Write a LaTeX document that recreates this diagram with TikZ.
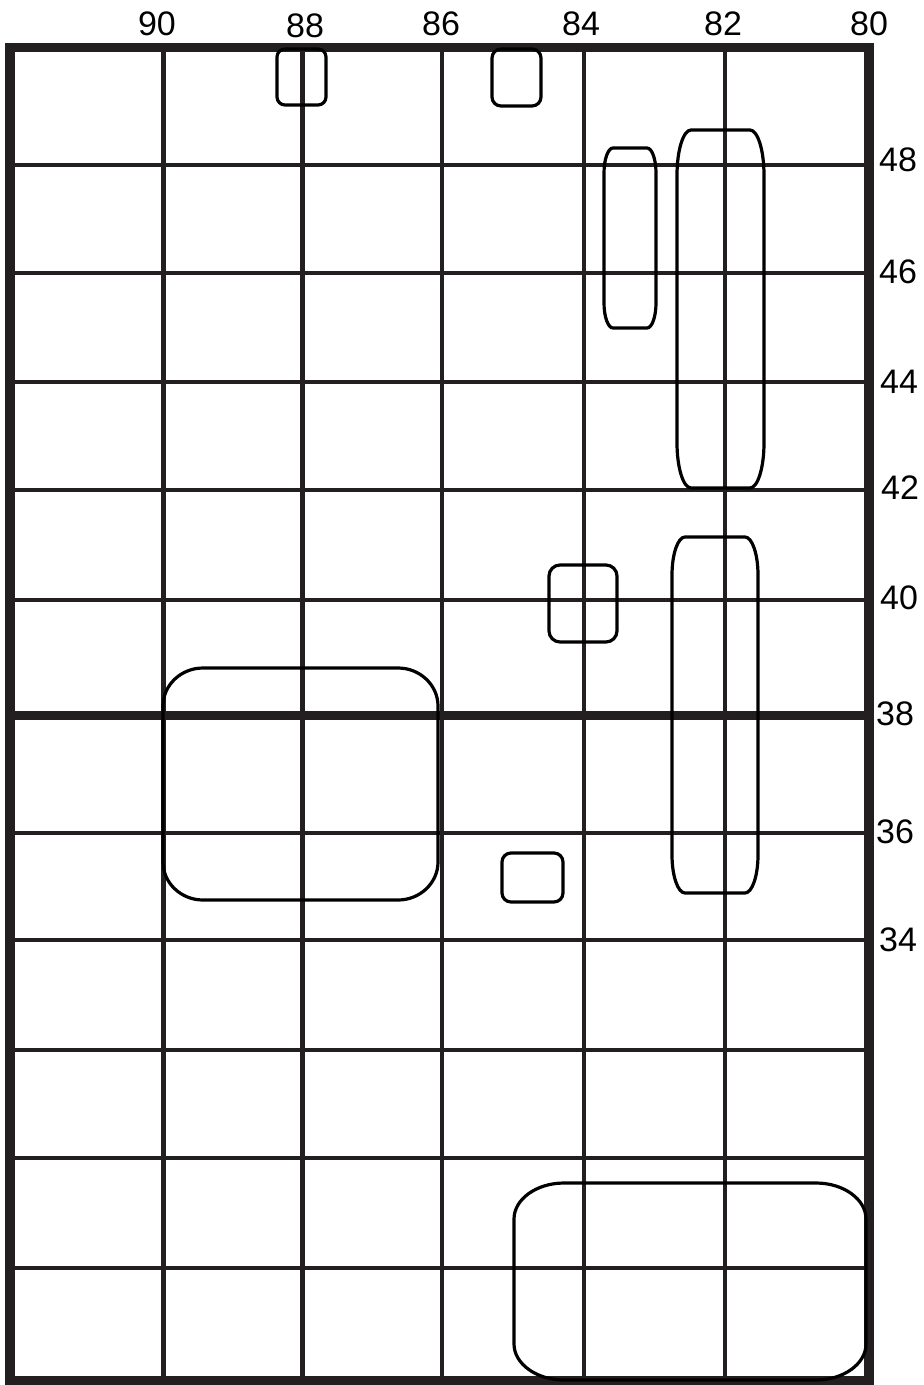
\documentclass[tikz,border=0pt]{standalone}
\usepackage{fontspec}
\setmainfont{Liberation Sans}
\definecolor{gridc}{RGB}{35,31,32}
\newcommand\rrbox[6]{%
\draw[rbx] ({#1+#5},#2) -- ({#3-#5},#2)
  .. controls ({#3-0.45*#5},#2) and (#3,{#2+0.45*#6}) .. (#3,{#2+#6})
  -- (#3,{#4-#6})
  .. controls (#3,{#4-0.45*#6}) and ({#3-0.45*#5},#4) .. ({#3-#5},#4)
  -- ({#1+#5},#4)
  .. controls ({#1+0.45*#5},#4) and (#1,{#4-0.45*#6}) .. (#1,{#4-#6})
  -- (#1,{#2+#6})
  .. controls (#1,{#2+0.45*#6}) and ({#1+0.45*#5},#2) .. cycle;}
\begin{document}
\begin{tikzpicture}[x=0.5pt,y=-0.5pt,
  gridline/.style={draw=gridc,line width=2.2pt},
  thickline/.style={draw=gridc,line width=4.5pt},
  frame/.style={draw=gridc,line width=4.9pt},
  rbx/.style={draw=black,line width=1.6pt},
  lab/.style={font=\fontsize{17}{17}\selectfont,inner sep=0pt}]
\useasboundingbox (0,0) rectangle (924,1385);
% vertical grid lines
\foreach \x in {163.5,302.5,442,584,725}
  \draw[gridline] (\x,47) -- (\x,1381);
% horizontal grid lines
\foreach \y in {165,273,382,490,600,833,940,1050,1158,1268}
  \draw[gridline] (10,\y) -- (869,\y);
\draw[thickline] (10,715) -- (869,715);
% frame
\draw[frame] (10,47.5) rectangle (869,1381);
% top labels
\node[lab] (t90) at (157,24) {90};
\node[lab] (t88) at (305,26) {88};
\node[lab] (t86) at (441,24) {86};
\node[lab] (t84) at (581,24) {84};
\node[lab] (t82) at (723,24) {82};
\node[lab] (t80) at (869,24) {80};
% right labels
\node[lab] (r48) at (898,160) {48};
\node[lab] (r46) at (898,272) {46};
\node[lab] (r44) at (899,382) {44};
\node[lab] (r42) at (900,488) {42};
\node[lab] (r40) at (899,598) {40};
\node[lab] (r38) at (895,714) {38};
\node[lab] (r36) at (895,832) {36};
\node[lab] (r34) at (898,940) {34};
% rounded boxes
\rrbox{277}{49}{326}{105}{8}{8}
\rrbox{492}{49}{541}{106}{9}{9}
\rrbox{604}{148}{656}{328}{9}{25}
\rrbox{677}{130}{764}{488}{14}{45}
\rrbox{549}{565}{617}{642}{11}{11}
\rrbox{672}{537}{758}{893}{13}{38}
\rrbox{502}{853}{563}{902}{9}{9}
\rrbox{163}{668}{438}{900}{40}{38}
\rrbox{514}{1183}{866}{1380}{50}{36}
\end{tikzpicture}
\end{document}
